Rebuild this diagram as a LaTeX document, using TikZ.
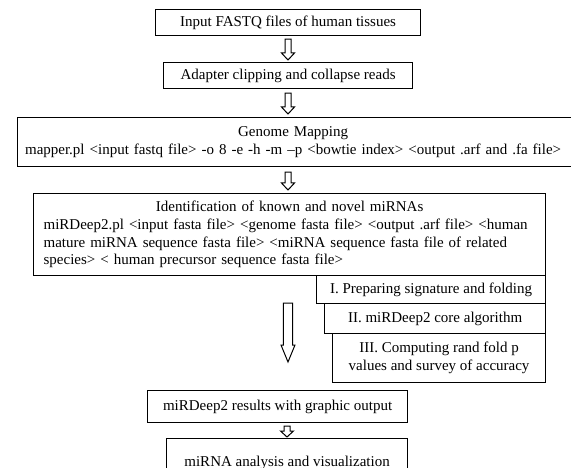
\documentclass[tikz,border=0pt]{standalone}
\usepackage{fontspec}
\setmainfont{Liberation Serif}
\usetikzlibrary{calc}
\tikzset{
  box/.style={draw=black, line width=1.2pt, fill=white, inner sep=0pt,
    font=\fontsize{15}{17.6}\selectfont, anchor=north west},
  blockarr/.style={draw=black, line width=1pt, fill=white, line join=miter},
}
\newcommand{\blkarrow}[5]{%
  \draw[blockarr] let \p1=#1, \p2=#2 in
    (\x1-#3,\y1) -- (\x1+#3,\y1) -- (\x1+#3,\y2+#5) -- (\x1+#4,\y2+#5)
    -- (\x1,\y2) -- (\x1-#4,\y2+#5) -- (\x1-#3,\y2+#5) -- cycle;
}
\begin{document}
\begin{tikzpicture}[x=1pt,y=-1pt]
  \clip (0,0) rectangle (571,468);
  \fill[white] (0,0) rectangle (571,468);
  \coordinate (ax) at (288,0);

  \node[box, minimum width=265pt, minimum height=26pt] (n1) at (155,9)
    {Input FASTQ files of human tissues};
  \node[box, minimum width=249pt, minimum height=26pt] (n2) at (163,62)
    {Adapter clipping and collapse reads};
  \node[box, minimum width=563pt, minimum height=49pt, text width=563pt, align=center] (n3) at (17,117)
    {\hspace*{-12pt}Genome Mapping\\
     \hspace*{-12pt}mapper.pl <input fastq file> -o 8 -e -h -m –p <bowtie index> <output .arf and .fa file>};
  \node[box, minimum width=512pt, minimum height=82pt, text width=492pt, inner xsep=10pt, align=left] (n4) at (33,193)
    {\makebox[492pt]{Identification of known and novel miRNAs}\\
     miRDeep2.pl <input fasta file> <genome fasta file> <output .arf file> <human\\
     mature miRNA sequence fasta file> <miRNA sequence fasta file of related\\
     species> < human precursor sequence fasta file>};
  \node[box, minimum width=229pt, minimum height=28pt] (s1) at (316,275)
    {I. Preparing signature and folding};
  \node[box, minimum width=221pt, minimum height=30pt] (s2) at (324,303)
    {II. miRDeep2 core algorithm};
  \node[box, minimum width=213pt, minimum height=49pt, align=center] (s3) at (332,333)
    {III. Computing rand fold p\\values and survey of accuracy};
  \node[box, minimum width=260pt, minimum height=32pt] (n5) at (147,390)
    {miRDeep2 results with graphic output};
  \node[box, minimum width=241pt, minimum height=48pt] (n6) at (166,438)
    {miRNA analysis and visualization};

  \blkarrow{($(n1.south -| ax)+(0,3)$)}{($(n2.north -| ax)+(0,-2)$)}{3pt}{6.5pt}{7pt}
  \blkarrow{($(n2.south -| ax)+(0,4)$)}{($(n3.north -| ax)+(0,-3)$)}{3pt}{6.5pt}{7pt}
  \blkarrow{($(n3.south -| ax)+(0,5)$)}{($(n4.north -| ax)+(0,-3)$)}{3pt}{6.5pt}{7pt}
  \blkarrow{($(n4.south -| ax)+(0,27)$)}{($(n5.north -| ax)+(0,-28)$)}{4.7pt}{7pt}{17pt}
  \blkarrow{($(n5.south -| ax)+(-1,3)$)}{($(n6.north -| ax)+(-1,-1)$)}{3pt}{6.5pt}{6pt}
\end{tikzpicture}
\end{document}
